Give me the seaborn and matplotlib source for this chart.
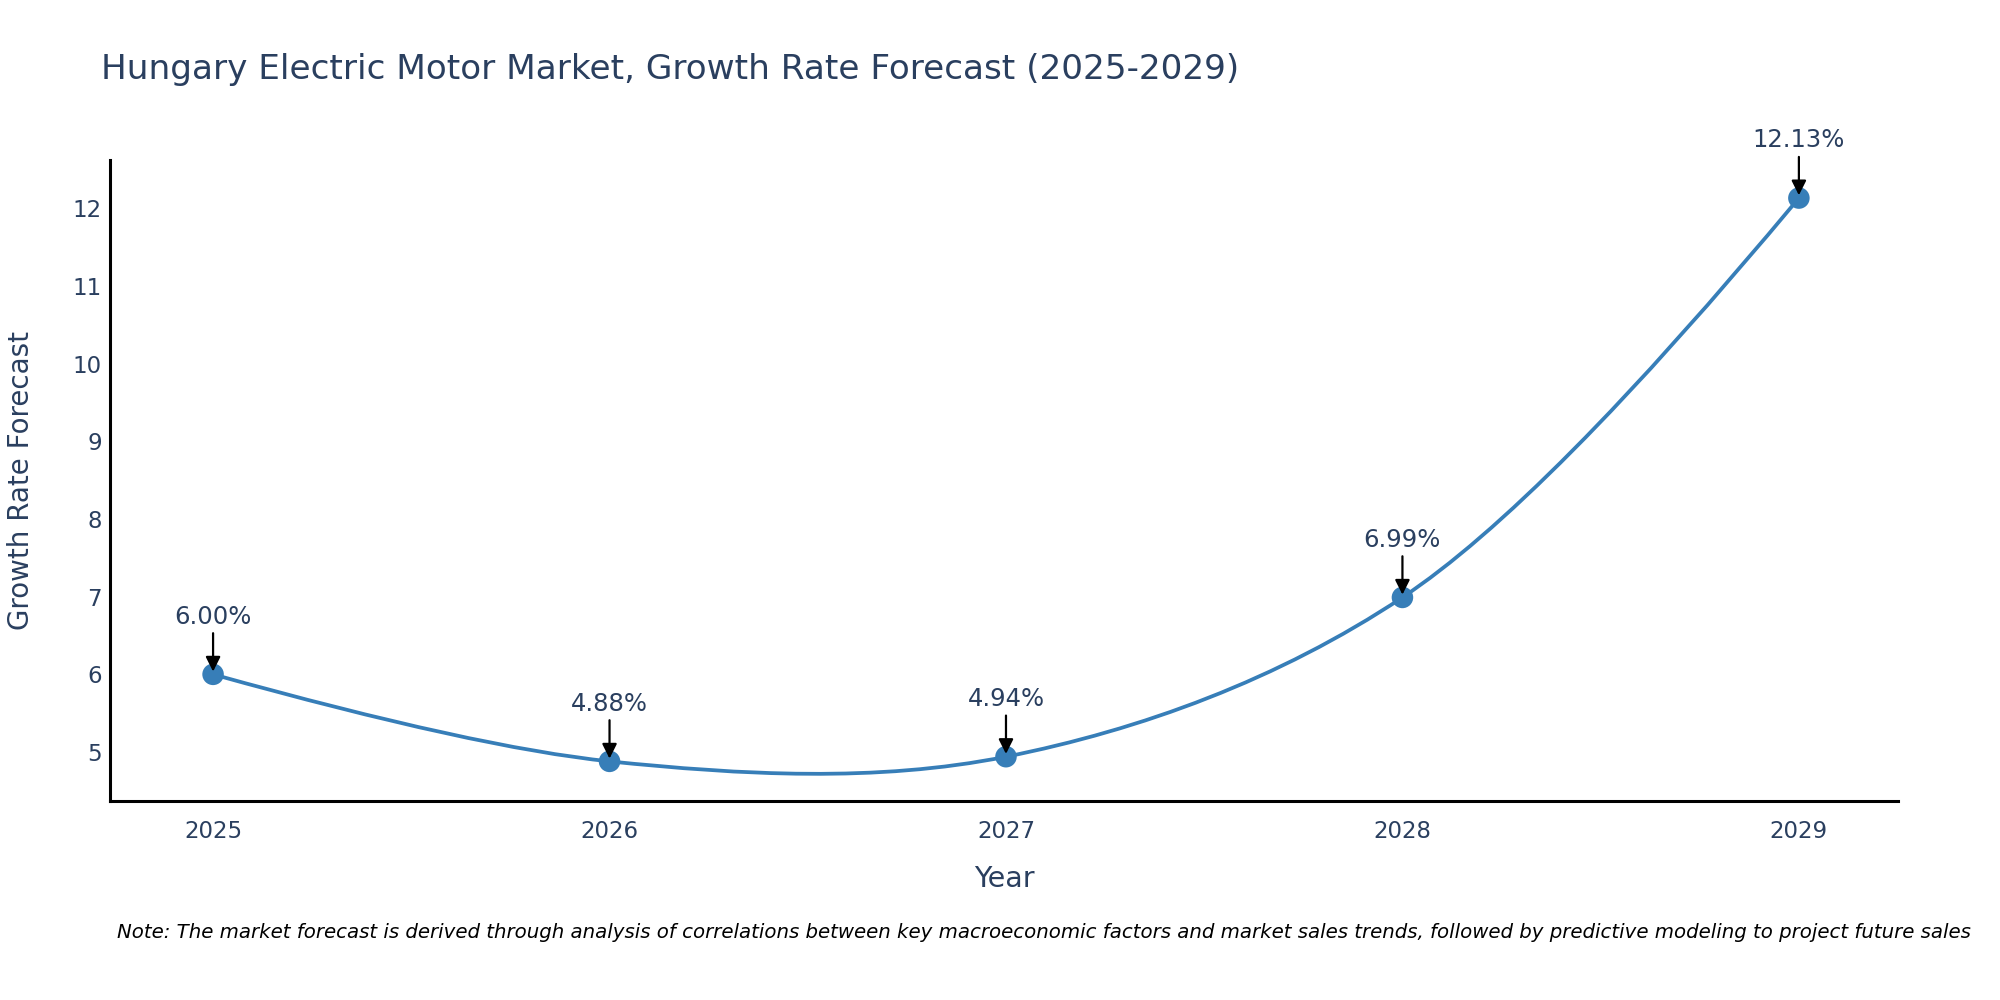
import numpy as np
import pandas as pd
import matplotlib
matplotlib.use("Agg")
import matplotlib.pyplot as plt
import seaborn as sns
from matplotlib.path import Path
from matplotlib.patches import PathPatch

years = [2025, 2026, 2027, 2028, 2029]
growth = [6.00, 4.88, 4.94, 6.99, 12.13]
labels = ["6.00%", "4.88%", "4.94%", "6.99%", "12.13%"]
y_ticks = [5, 6, 7, 8, 9, 10, 11, 12]

TITLE = "Hungary Electric Motor Market, Growth Rate Forecast (2025-2029)"
NOTE = ("Note: The market forecast is derived through analysis of correlations between key "
        "macroeconomic factors and market sales trends, followed by predictive modeling to "
        "project future sales")

TEXT_COLOR = "#2a3f5f"
LINE_COLOR = "#377eb8"

sns.set_style("white")
plt.rcParams['font.family'] = ['DejaVu Sans']

df = pd.DataFrame({"year": years, "growth": growth})

fig = plt.figure(figsize=(20, 10), dpi=100)
ax = fig.add_axes([0.055, 0.199, 0.894, 0.641])
ax.set_xlim(2024.74, 2029.25)
ax.set_ylim(4.37, 12.62)


def spline_path(ax, xs, ys, smooth=1.0):
    # plotly-style "spline" line shape, tangents worked out in pixel space
    pts = ax.transData.transform(np.column_stack([xs, ys]))
    tangents = []
    for i in range(1, len(pts) - 1):
        p0, p1, p2 = pts[i - 1], pts[i], pts[i + 1]
        d1 = p0 - p1
        d2 = p2 - p1
        d1a = np.hypot(*d1) ** 0.5
        d2a = np.hypot(*d2) ** 0.5
        num = (d2a * d2a * d1 - d1a * d1a * d2) * smooth
        den1 = 3 * d2a * (d1a + d2a)
        den2 = 3 * d1a * (d1a + d2a)
        tangents.append((p1 + num / den1, p1 - num / den2))
    verts = [pts[0], tangents[0][0], pts[1]]
    codes = [Path.MOVETO, Path.CURVE3, Path.CURVE3]
    for i in range(2, len(pts) - 1):
        verts += [tangents[i - 2][1], tangents[i - 1][0], pts[i]]
        codes += [Path.CURVE4] * 3
    verts += [tangents[-1][1], pts[-1]]
    codes += [Path.CURVE3] * 2
    verts = ax.transData.inverted().transform(np.array(verts))
    return Path(verts, codes)


ax.add_patch(PathPatch(spline_path(ax, df["year"].values, df["growth"].values),
                       facecolor="none", edgecolor=LINE_COLOR, lw=2.7,
                       capstyle="round", joinstyle="round", zorder=2))
sns.scatterplot(data=df, x="year", y="growth", ax=ax, s=240, color=LINE_COLOR,
                edgecolor="none", zorder=3, legend=False)

for x, y, lab in zip(years, growth, labels):
    ax.annotate(lab, xy=(x, y), xytext=(0, 33), textcoords="offset points",
                ha="center", va="bottom", fontsize=17.5, color=TEXT_COLOR,
                arrowprops=dict(arrowstyle="-|>", color="black", lw=1.6,
                                mutation_scale=22, shrinkA=1, shrinkB=2),
                zorder=4)

ax.set_xticks(years)
ax.set_xticklabels([str(y) for y in years])
ax.set_yticks(y_ticks)
ax.tick_params(axis="both", labelsize=16.5, colors=TEXT_COLOR, length=0)
ax.tick_params(axis="x", pad=14)
ax.tick_params(axis="y", pad=6)

for side in ["top", "right"]:
    ax.spines[side].set_visible(False)
for side in ["left", "bottom"]:
    ax.spines[side].set_color("black")
    ax.spines[side].set_linewidth(2.2)

ax.set_xlabel("Year", fontsize=20.5, color=TEXT_COLOR)
ax.set_ylabel("Growth Rate Forecast", fontsize=20, color=TEXT_COLOR)
ax.yaxis.set_label_coords(-0.042, 0.5)
ax.xaxis.set_label_coords(0.5, -0.1)

fig.text(0.0505, 0.93, TITLE, fontsize=24.7, color=TEXT_COLOR, ha="left", va="center")
fig.text(0.0585, 0.068, NOTE, fontsize=14.2, style="italic", color="black",
         ha="left", va="center")

fig.savefig("out.png", dpi=100)
